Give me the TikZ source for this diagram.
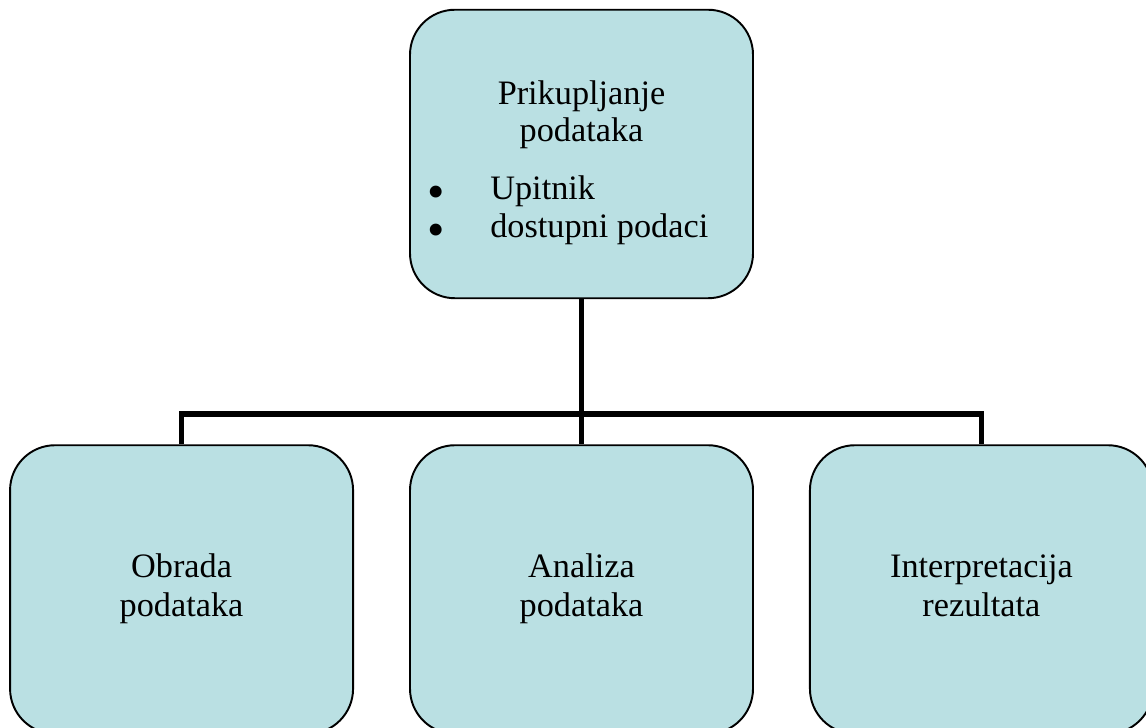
\documentclass[tikz,border=0pt]{standalone}
\usepackage{graphicx}
\usepackage{fontspec}
\setmainfont{Liberation Serif}
\usetikzlibrary{positioning}
\definecolor{boxfill}{RGB}{186,224,227}
\newcommand{\itembullet}{\makebox[1.26cm][l]{\smash{\raisebox{-0.24em}{\scalebox{1.45}{\textbullet}}}}}

\begin{document}
\begin{tikzpicture}[node distance=1.1cm,
	stage node/.style={draw,line width=1.1pt,fill=boxfill,rounded corners=0.9cm,minimum width=6.86cm,minimum height=5.77cm,align=center,font=\fontsize{19.5pt}{22pt}\selectfont},
	box text/.style={inner sep=0pt,font=\fontsize{19.5pt}{21pt}\selectfont},
	link/.style={line width=3.1pt}]

	\useasboundingbox (0,0) rectangle (22.92,14.56);
	\clip (0,0) rectangle (22.92,14.56);

	\node[stage node] (collect) at (11.63,11.48) {};
	\node[box text,align=center] (collect title) at (11.63,12.27) {Prikupljanje\\podataka};
	\node[box text,anchor=base west] (item a) at (8.54,10.56) {\itembullet Upitnik};
	\node[box text,anchor=base west] (item b) at (8.54,9.80) {\itembullet dostupni podaci};

	\node[stage node] (analysis) at (11.63,2.77) {Analiza\strut\\podataka\strut};
	\node[stage node] (processing) [left=of analysis] {Obrada\strut\\podataka\strut};
	\node[stage node] (interpretation) [right=of analysis] {Interpretacija\strut\\rezultata\strut};

	\coordinate (bar) at (11.63,6.28);
	\draw[link] (collect.south) -- (analysis.north);
	\draw[link] (processing.north) -- (processing.north |- bar) -- (interpretation.north |- bar) -- (interpretation.north);

\end{tikzpicture}
\end{document}
